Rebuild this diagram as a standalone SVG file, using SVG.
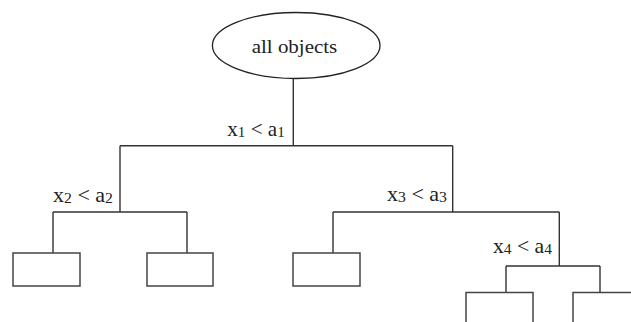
<svg xmlns="http://www.w3.org/2000/svg" width="631" height="322" viewBox="0 0 631 322">
<style>
.ln{fill:none;stroke:#333;stroke-width:1.4}
.box{fill:#fff;stroke:#444;stroke-width:1.5}
.ell{fill:#fff;stroke:#222;stroke-width:1.3}
text{font-family:'Liberation Serif','DejaVu Serif',serif;fill:#222}
.lab{font-size:21px}
.sub{font-size:15px}
</style>
<rect width="631" height="322" fill="#fff"/>
<g id="connectors">
<path class="ln" d="M293.3 79V145.7M120 145.7H452.7M120 145.7V212M53 212H187M53 212V253M187 212V253M452.7 145.7V212M333 212H559.3M333 212V253M559.3 212V266M506 266H600M506 266V292.5M600 266V292.5"/>
<g id="labels">
<text class="lab" font-family="Liberation Serif, serif" x="227.3" y="135.5" textLength="57.4" lengthAdjust="spacingAndGlyphs">x<tspan class="sub" dy="1">1</tspan><tspan dy="-1"> &lt; a</tspan><tspan class="sub" dy="1">1</tspan></text>
<text class="lab" font-family="Liberation Serif, serif" x="53" y="201.7" textLength="60" lengthAdjust="spacingAndGlyphs">x<tspan class="sub" dy="1">2</tspan><tspan dy="-1"> &lt; a</tspan><tspan class="sub" dy="1">2</tspan></text>
<text class="lab" font-family="Liberation Serif, serif" x="387" y="201" textLength="60" lengthAdjust="spacingAndGlyphs">x<tspan class="sub" dy="1">3</tspan><tspan dy="-1"> &lt; a</tspan><tspan class="sub" dy="1">3</tspan></text>
<text class="lab" font-family="Liberation Serif, serif" x="493" y="253.3" textLength="59" lengthAdjust="spacingAndGlyphs">x<tspan class="sub" dy="1">4</tspan><tspan dy="-1"> &lt; a</tspan><tspan class="sub" dy="1">4</tspan></text>
</g>
</g>
<g id="root">
<ellipse class="ell" cx="296.2" cy="45.5" rx="83.8" ry="33"/>
<text font-family="Liberation Serif, serif" x="251.7" y="53.3" font-size="19" textLength="85.6" lengthAdjust="spacingAndGlyphs">all objects</text>
</g>
<g id="leaf1"><rect class="box" x="13" y="253" width="67" height="33"/></g>
<g id="leaf2"><rect class="box" x="147" y="253" width="66" height="33"/></g>
<g id="leaf3"><rect class="box" x="293" y="253" width="67" height="33"/></g>
<g id="leaf4"><rect class="box" x="466" y="292.5" width="67" height="33"/></g>
<g id="leaf5"><rect class="box" x="573" y="292.5" width="67" height="33"/></g>
</svg>
